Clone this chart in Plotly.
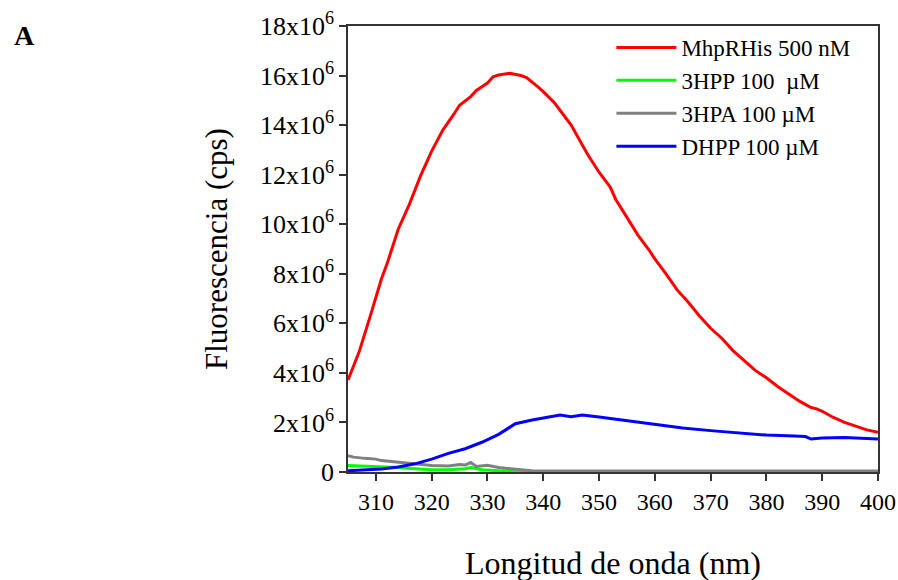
import plotly.graph_objects as go

# ---- data (values in units of 10^6 cps) ----
red_x = [305, 307, 309, 311, 312, 314, 316, 318, 320, 322, 324, 325, 327, 328, 330, 331, 332, 334,
         336, 337, 339, 340, 342, 344, 345, 347, 348, 350, 352, 353, 355, 357, 359, 360, 362, 364,
         366, 368, 370, 372, 374, 376, 378, 380, 382, 384, 386, 388, 389, 390, 392, 394, 396, 398, 400]
red_y = [3.71, 4.85, 6.3, 7.8, 8.4, 9.8, 10.8, 11.95, 12.95, 13.8, 14.45, 14.8, 15.15, 15.4, 15.7, 15.95,
         16.02, 16.09, 16.0, 15.92, 15.55, 15.35, 14.9, 14.3, 14.0, 13.2, 12.8, 12.1, 11.5, 11.0, 10.3,
         9.55, 8.95, 8.6, 8.0, 7.35, 6.85, 6.3, 5.8, 5.4, 4.9, 4.5, 4.1, 3.8, 3.45, 3.15, 2.85, 2.6,
         2.55, 2.45, 2.2, 2.0, 1.85, 1.7, 1.6]

green_x = [305, 308, 311, 314, 317, 320, 323, 326, 327, 329, 332, 335, 340, 360, 380, 400]
green_y = [0.26, 0.24, 0.22, 0.18, 0.13, 0.09, 0.09, 0.13, 0.18, 0.09, 0.05, 0.02, 0.02, 0.02, 0.02, 0.02]

gray_x = [305, 306, 308, 310, 311, 314, 317, 320, 323, 325, 326, 327, 328, 330, 332, 335, 338, 340,
          350, 360, 370, 380, 387, 400]
gray_y = [0.66, 0.6, 0.55, 0.52, 0.46, 0.39, 0.31, 0.26, 0.24, 0.3, 0.28, 0.38, 0.22, 0.27, 0.18, 0.11,
          0.05, 0.04, 0.04, 0.03, 0.03, 0.03, 0.03, 0.04]

blue_x = [305, 308, 311, 314, 317, 320, 323, 326, 329, 332, 335, 338, 341, 343, 345, 347, 350, 353,
          356, 360, 365, 370, 375, 380, 385, 387, 388, 390, 394, 397, 400]
blue_y = [0.05, 0.09, 0.12, 0.2, 0.33, 0.52, 0.75, 0.94, 1.2, 1.52, 1.95, 2.1, 2.22, 2.3, 2.23, 2.3,
          2.22, 2.13, 2.05, 1.93, 1.78, 1.67, 1.57, 1.49, 1.45, 1.43, 1.33, 1.37, 1.39, 1.36, 1.33]

y_tickvals = [0, 2, 4, 6, 8, 10, 12, 14, 16, 18]
y_ticktext = ["0"] + [f"{v}x10<sup>6</sup>" for v in y_tickvals[1:]]
x_tickvals = [310, 320, 330, 340, 350, 360, 370, 380, 390, 400]

SCALE = 1e6
FONT = "Liberation Serif, Times New Roman, serif"

fig = go.Figure()
series = [
    ("3HPP 100  µM", green_x, green_y, "#00FF00", 2),
    ("3HPA 100 µM", gray_x, gray_y, "#808080", 3),
    ("DHPP 100 µM", blue_x, blue_y, "#0000FF", 4),
    ("MhpRHis 500 nM", red_x, red_y, "#FF0000", 1),
]
for name, xs, ys, col, rank in series:
    fig.add_trace(go.Scatter(
        x=xs, y=[v * SCALE for v in ys], mode="lines", name=name,
        line=dict(color=col, width=3), legendrank=rank,
    ))

fig.update_layout(
    width=898, height=580,
    margin=dict(l=348, r=20, t=26, b=108),
    paper_bgcolor="white", plot_bgcolor="white",
    font=dict(family=FONT, color="black"),
    showlegend=True,
    legend=dict(
        x=0.497, y=1.0, xanchor="left", yanchor="top",
        bgcolor="rgba(0,0,0,0)", borderwidth=0,
        font=dict(family=FONT, size=23, color="black"),
        tracegroupgap=0, itemwidth=60,
    ),
    xaxis=dict(
        range=[305, 400], tickvals=x_tickvals, automargin=False,
        showline=True, linecolor="#333", linewidth=1.5, mirror=True,
        ticks="outside", ticklen=7, tickcolor="#333", tickwidth=1.5,
        showgrid=False, zeroline=False,
        tickfont=dict(family=FONT, size=24, color="black"),
    ),
    yaxis=dict(
        range=[0, 18 * SCALE], tickvals=[v * SCALE for v in y_tickvals], ticktext=y_ticktext,
        automargin=False,
        showline=True, linecolor="#333", linewidth=1.5, mirror=True,
        ticks="outside", ticklen=7, tickcolor="#333", tickwidth=1.5,
        showgrid=False, zeroline=False,
        tickfont=dict(family=FONT, size=26, color="black"),
    ),
    annotations=[
        dict(text="<b>A</b>", xref="paper", yref="paper", x=0, y=1,
             xanchor="left", yanchor="middle", showarrow=False,
             xshift=12 - 348, yshift=-9,
             font=dict(family=FONT, size=28, color="black")),
        dict(text="Longitud de onda (nm)", xref="paper", yref="paper", x=0.5, y=0,
             xanchor="center", yanchor="middle", showarrow=False, yshift=-91,
             font=dict(family=FONT, size=32, color="black")),
        dict(text="Fluorescencia (cps)", xref="paper", yref="paper", x=0, y=0.5,
             xanchor="center", yanchor="middle", showarrow=False, xshift=-132, textangle=-90,
             font=dict(family=FONT, size=31, color="black")),
    ],
)

fig.write_html("out.html", config={"displayModeBar": False},
               post_script="document.body.style.margin='0px';")
